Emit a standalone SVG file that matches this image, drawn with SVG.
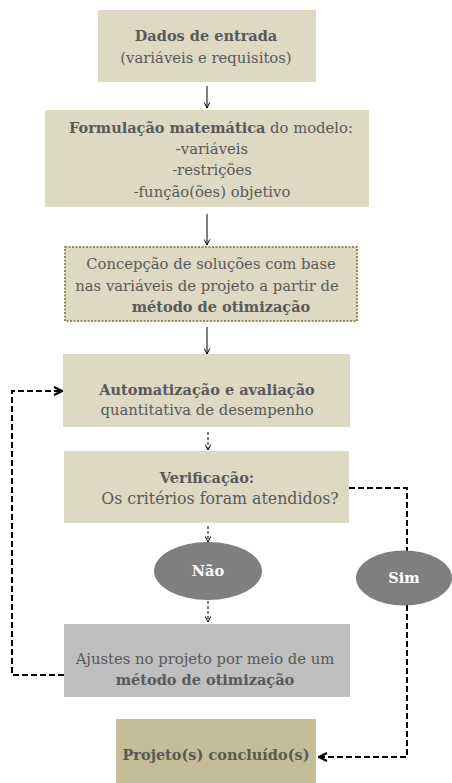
<svg xmlns="http://www.w3.org/2000/svg" width="452" height="783" viewBox="0 0 452 783">
<defs>
<style>
.t{font-family:"DejaVu Serif",serif;font-size:14.8px;fill:#595959;text-anchor:middle}
.b{font-weight:bold;font-size:14.5px}
.w{font-family:"DejaVu Serif",serif;font-size:14.5px;font-weight:bold;fill:#ffffff;text-anchor:middle}
.box{fill:#ddd9c3}
.thin{fill:none;stroke:#000;stroke-width:1}
.thind{fill:none;stroke:#000;stroke-width:1;stroke-dasharray:3 2}
.thick{fill:none;stroke:#000;stroke-width:2;stroke-dasharray:6 3}
</style>
<marker id="ah" viewBox="0 0 10 10" refX="9" refY="5" markerWidth="7" markerHeight="7" markerUnits="userSpaceOnUse" orient="auto">
<path d="M1,1 L9,5 L1,9" fill="none" stroke="#000" stroke-width="1.4"/>
</marker>
<marker id="ahb" viewBox="0 0 10 10" refX="9" refY="5" markerWidth="10" markerHeight="10" markerUnits="userSpaceOnUse" orient="auto">
<path d="M1,1 L9,5 L1,9" fill="none" stroke="#000" stroke-width="2.2"/>
</marker>
</defs>
<rect width="452" height="783" fill="#ffffff"/>

<g id="connectors">
<line class="thin" x1="207" y1="86" x2="207" y2="108" marker-end="url(#ah)"/>
<line class="thin" x1="207" y1="214" x2="207" y2="245" marker-end="url(#ah)"/>
<line class="thin" x1="207" y1="327" x2="207" y2="354" marker-end="url(#ah)"/>
<line class="thind" x1="208" y1="432" x2="208" y2="450" marker-end="url(#ah)"/>
<line class="thind" x1="208" y1="526" x2="208" y2="542" marker-end="url(#ah)"/>
<line class="thind" x1="208" y1="601" x2="208" y2="622" marker-end="url(#ah)"/>
<polyline class="thick" points="64,675 12,675 12,391 62,391" marker-end="url(#ahb)"/>
<polyline class="thick" points="349,488 407,488 407,551"/>
<polyline class="thick" points="407,605 407,757 319,757" marker-end="url(#ahb)"/>
</g>

<g id="n1">
<rect class="box" x="98" y="10" width="218" height="72"/>
<text class="t b" x="206" y="41">Dados de entrada</text>
<text class="t" x="206" y="63">(variáveis e requisitos)</text>
</g>

<g id="n2">
<rect class="box" x="45" y="110" width="324" height="97"/>
<text class="t" x="211" y="133"><tspan class="b">Formulação matemática</tspan> do modelo:</text>
<text class="t" x="212" y="154">-variáveis</text>
<text class="t" x="212" y="175">-restrições</text>
<text class="t" x="212" y="197">-função(ões) objetivo</text>
</g>

<g id="n3">
<rect class="box" x="65" y="247" width="292" height="74" stroke="#948a54" stroke-width="2" stroke-dasharray="2 1.5"/>
<text class="t" x="211" y="269">Concepção de soluções com base</text>
<text class="t" x="207" y="291">nas variáveis de projeto a partir de</text>
<text class="t b" x="221" y="312">método de otimização</text>
</g>

<g id="n4">
<rect class="box" x="63" y="354" width="287" height="73"/>
<text class="t b" x="207" y="395">Automatização e avaliação</text>
<text class="t" x="207" y="415">quantitativa de desempenho</text>
</g>

<g id="n5">
<rect class="box" x="64" y="451" width="285" height="72"/>
<text class="t b" x="207" y="483">Verificação:</text>
<text class="t" x="220" y="504" style="font-size:15.8px">Os critérios foram atendidos?</text>
</g>

<g id="n6">
<ellipse cx="208" cy="571" rx="54" ry="29" fill="#7f7f7f"/>
<text class="w" x="208" y="576">Não</text>
</g>

<g id="n7">
<ellipse cx="404" cy="578" rx="48" ry="27.5" fill="#7f7f7f"/>
<text class="w" x="404" y="583">Sim</text>
</g>

<g id="n8">
<rect x="64" y="624" width="286" height="73" fill="#bfbfbf"/>
<text class="t" x="205" y="664">Ajustes no projeto por meio de um</text>
<text class="t b" x="205" y="685">método de otimização</text>
</g>

<g id="n9">
<rect x="116" y="719" width="200" height="64" fill="#c4bd97"/>
<text class="t b" x="216" y="760">Projeto(s) concluído(s)</text>
</g>
</svg>
